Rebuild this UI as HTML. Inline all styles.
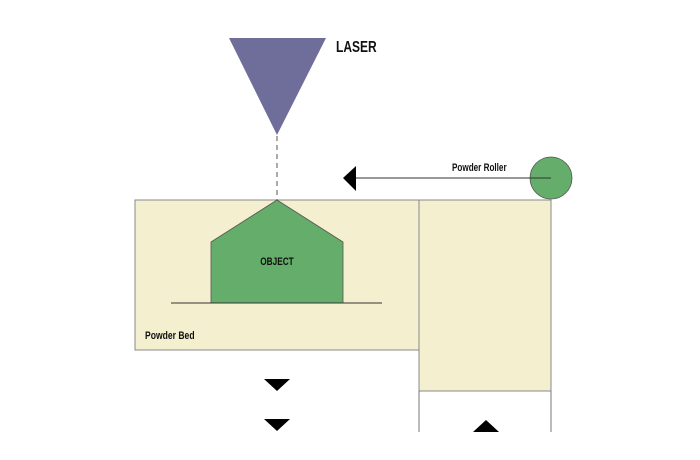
<!DOCTYPE html>
<html><head><style>html,body{margin:0;padding:0;background:#fff;}svg{display:block}</style></head>
<body>
<svg width="700" height="460" viewBox="0 0 700 460" xmlns="http://www.w3.org/2000/svg" font-family="Liberation Sans, sans-serif" font-weight="bold">
<polygon points="229,38 326,38 277,135" fill="#6f6d9a"/>
<text x="336" y="52" font-size="16" fill="#111" transform="translate(336,0) scale(0.75,1) translate(-336,0)">LASER</text>
<line x1="277" y1="136" x2="277" y2="200" stroke="#555" stroke-width="1" stroke-dasharray="5,4"/>
<rect x="135" y="200" width="284" height="150" fill="#f4efcf" stroke="#888" stroke-width="1"/>
<rect x="419" y="200" width="132" height="191" fill="#f4efcf" stroke="#888" stroke-width="1"/>
<line x1="419" y1="391" x2="419" y2="432" stroke="#777"/>
<line x1="551" y1="391" x2="551" y2="432" stroke="#777"/>
<polygon points="277,200 343,242 343,303 211,303 211,242" fill="#64ad6b" stroke="#555" stroke-width="0.8"/>
<line x1="171" y1="303" x2="382" y2="303" stroke="#333" stroke-width="1"/>
<text x="277" y="265" font-size="11" fill="#111" text-anchor="middle" transform="translate(277,0) scale(0.75,1) translate(-277,0)">OBJECT</text>
<text x="145" y="339" font-size="11" fill="#111" transform="translate(145,0) scale(0.78,1) translate(-145,0)">Powder Bed</text>
<circle cx="551" cy="178" r="21" fill="#64ad6b" stroke="#555" stroke-width="0.8"/>
<line x1="356" y1="178" x2="551" y2="178" stroke="#333" stroke-width="1"/>
<polygon points="343,178 356,166 356,191" fill="#000"/>
<text x="452" y="171" font-size="11" fill="#111" transform="translate(452,0) scale(0.74,1) translate(-452,0)">Powder Roller</text>
<polygon points="264,379 290,379 277,391" fill="#000"/>
<polygon points="264,419 290,419 277,431" fill="#000"/>
<polygon points="473,432 499,432 486,420" fill="#000"/>
</svg>
</body></html>
